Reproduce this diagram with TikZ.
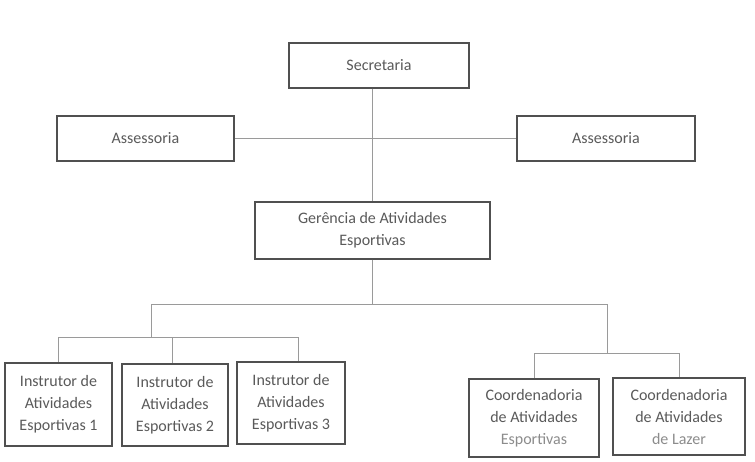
\documentclass[tikz,border=0pt]{standalone}
\usepackage{fontspec}
\setmainfont{Carlito}
\begin{document}
\begin{tikzpicture}[x=1pt,y=-1pt,
  box/.style={draw=boxc, line width=1.3pt, align=center, inner sep=0pt,
    text=txtc, font=\fontsize{16}{22}\selectfont},
  conn/.style={draw=linec, line width=0.9pt}]
\definecolor{boxc}{HTML}{505050}
\definecolor{linec}{HTML}{9A9A9A}
\definecolor{txtc}{HTML}{5A5A5A}
\definecolor{lightc}{HTML}{8C8C8C}
\useasboundingbox[fill=white] (0,0) rectangle (755,461);
\node[box, minimum width=180pt, minimum height=45pt] (sec) at (379,65.5) {Secretaria};
\node[box, minimum width=177pt, minimum height=45pt] (asL) at (145.5,138.5) {Assessoria};
\node[box, minimum width=178pt, minimum height=45pt] (asR) at (606,138.5) {Assessoria};
\node[box, minimum width=235pt, minimum height=57pt] (ger) at (372.5,230.5) {Gerência de Atividades\\Esportivas};
\node[box, minimum width=107pt, minimum height=83pt] (i1) at (58.5,404.5) {Instrutor de\\Atividades\\Esportivas 1};
\node[box, minimum width=106pt, minimum height=82pt] (i2) at (175,405) {Instrutor de\\Atividades\\Esportivas 2};
\node[box, minimum width=108pt, minimum height=82pt] (i3) at (291,403) {Instrutor de\\Atividades\\Esportivas 3};
\node[box, minimum width=130pt, minimum height=78pt] (c1) at (534,418) {Coordenadoria\\de Atividades\\\textcolor{lightc}{Esportivas}};
\node[box, minimum width=132pt, minimum height=77pt] (c2) at (679,416.5) {Coordenadoria\\de Atividades\\\textcolor{lightc}{de Lazer}};
% junction coordinates
\coordinate (aj) at (372.5,138.5);
\coordinate (hL) at (151,304);
\coordinate (hR) at (607,304);
\coordinate (bL) at (151,337);
\coordinate (b2) at (172,337);
\coordinate (b3) at (298,337);
\coordinate (bR) at (607,353);
% connectors
\draw[conn] (asL.east) -- (asR.west);
\draw[conn] (sec.south -| aj) -- (ger.north);
\draw[conn] (ger.south) -- (ger.south |- hL);
\draw[conn] (hL) -- (hR);
\draw[conn] (hL) -- (bL);
\draw[conn] (i1.north |- bL) -- (b3);
\draw[conn] (i1.north |- bL) -- (i1.north);
\draw[conn] (b2) -- (b2 |- i2.north);
\draw[conn] (b3) -- (b3 |- i3.north);
\draw[conn] (hR) -- (bR);
\draw[conn] (c1.north |- bR) -- (c2.north |- bR);
\draw[conn] (c1.north |- bR) -- (c1.north);
\draw[conn] (c2.north |- bR) -- (c2.north);
\end{tikzpicture}
\end{document}
